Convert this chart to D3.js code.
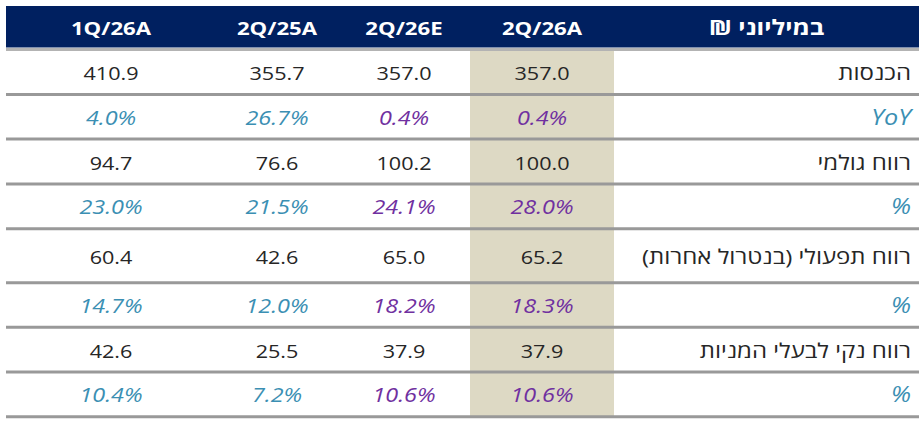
<!DOCTYPE html>
<html>
<head>
<meta charset="utf-8">
<script src="https://cdn.jsdelivr.net/npm/d3@7"></script>
<style>
  html, body { margin: 0; padding: 0; background: #fff; }
  svg { display: block; font-family: "Open Sans", "Liberation Sans", sans-serif; }
</style>
</head>
<body>
<svg id="chart" width="922" height="424"></svg>
<script>
// column headers, left to right as in the picture
const columns = ["1Q/26A", "2Q/25A", "2Q/26E", "2Q/26A"];
const headerLabel = "במיליוני ₪";

const rowLabels = [
  "הכנסות",
  "YoY",
  "רווח גולמי",
  "%",
  "רווח תפעולי (בנטרול אחרות)",
  "%",
  "רווח נקי לבעלי המניות",
  "%"
];
// odd rows are percentages
const isPct = [false, true, false, true, false, true, false, true];

const q1_26A = [410.9, 4.0, 94.7, 23.0, 60.4, 14.7, 42.6, 10.4];
const q2_25A = [355.7, 26.7, 76.6, 21.5, 42.6, 12.0, 25.5, 7.2];
const q2_26E = [357.0, 0.4, 100.2, 24.1, 65.0, 18.2, 37.9, 10.6];
const q2_26A = [357.0, 0.4, 100.0, 28.0, 65.2, 18.3, 37.9, 10.6];

const seriesByCol = [q1_26A, q2_25A, q2_26E, q2_26A];

// layout
const colEdges = [6, 216, 338, 470, 614, 919];   // last segment = label column
const headerTop = 6, headerBottom = 47.5;
const rowHeights = [45, 44.5, 45, 44.7, 54, 44.6, 44.7, 44.7];
const firstLine = 49.5;
const sx = 1.2; // glyphs in the picture are stretched horizontally

const navy = "#002060", beige = "#ddd9c4", ink = "#262626";
const blue = "#3b8fb3", purple = "#7030a0";
const pctColor = [blue, blue, purple, purple];

const svg = d3.select("#chart");

// y positions of row separators
const lineYs = [firstLine];
rowHeights.forEach(h => lineYs.push(lineYs[lineYs.length - 1] + h));

const colX = d3.scaleOrdinal().domain(d3.range(colEdges.length - 1)).range(colEdges.slice(0, -1));
const colW = i => colEdges[i + 1] - colEdges[i];
const rowMid = i => (lineYs[i] + lineYs[i + 1]) / 2;

const fmt = d3.format(".1f");

// highlight column for the actual quarter
svg.append("rect")
  .attr("x", colX(3)).attr("width", colW(3))
  .attr("y", lineYs[0]).attr("height", lineYs[lineYs.length - 1] - lineYs[0])
  .attr("fill", beige);

// header band
svg.append("rect")
  .attr("x", colEdges[0]).attr("width", colEdges[colEdges.length - 1] - colEdges[0])
  .attr("y", headerTop).attr("height", headerBottom - headerTop)
  .attr("fill", navy);

const headers = columns.concat([headerLabel]);
svg.selectAll("text.hdr")
  .data(headers)
  .join("text")
  .attr("class", "hdr")
  .attr("transform", (d, i) => `translate(${colX(i) + colW(i) / 2},35) scale(${sx},1)`)
  .attr("text-anchor", "middle")
  .attr("direction", (d, i) => i === 4 ? "rtl" : null)
  .attr("fill", "#fff")
  .attr("font-weight", 700)
  .attr("font-size", (d, i) => i === 4 ? 21 : 18.5)
  .text(d => d);

// separators
svg.selectAll("line.sep")
  .data(lineYs)
  .join("line")
  .attr("class", "sep")
  .attr("x1", colEdges[0]).attr("x2", colEdges[colEdges.length - 1])
  .attr("y1", d => d).attr("y2", d => d)
  .attr("stroke", (d, i) => i === 0 ? "#b3b3b3" : "#999")
  .attr("stroke-width", 3);

// value cells
const cells = [];
seriesByCol.forEach((vals, c) => vals.forEach((v, r) => cells.push({c, r, v})));

svg.selectAll("text.val")
  .data(cells)
  .join("text")
  .attr("class", "val")
  .attr("transform", d => `translate(${colX(d.c) + colW(d.c) / 2},${rowMid(d.r) + 8}) scale(${sx},1)`)
  .attr("text-anchor", "middle")
  .attr("font-size", d => isPct[d.r] ? 19.5 : 18)
  .attr("font-style", d => isPct[d.r] ? "italic" : "normal")
  .attr("fill", d => isPct[d.r] ? pctColor[d.c] : ink)
  .text(d => isPct[d.r] ? fmt(d.v) + "%" : fmt(d.v));

// row labels (right aligned, rtl)
svg.selectAll("text.lbl")
  .data(rowLabels)
  .join("text")
  .attr("class", "lbl")
  .attr("transform", (d, i) => `translate(911,${rowMid(i) + 8}) scale(${sx},1)`)
  .attr("direction", "rtl")
  .attr("text-anchor", "start")
  .attr("font-size", (d, i) => isPct[i] ? 21 : 20)
  .attr("font-style", (d, i) => isPct[i] ? "italic" : "normal")
  .attr("fill", (d, i) => isPct[i] ? blue : ink)
  .text(d => d);
</script>
</body>
</html>
